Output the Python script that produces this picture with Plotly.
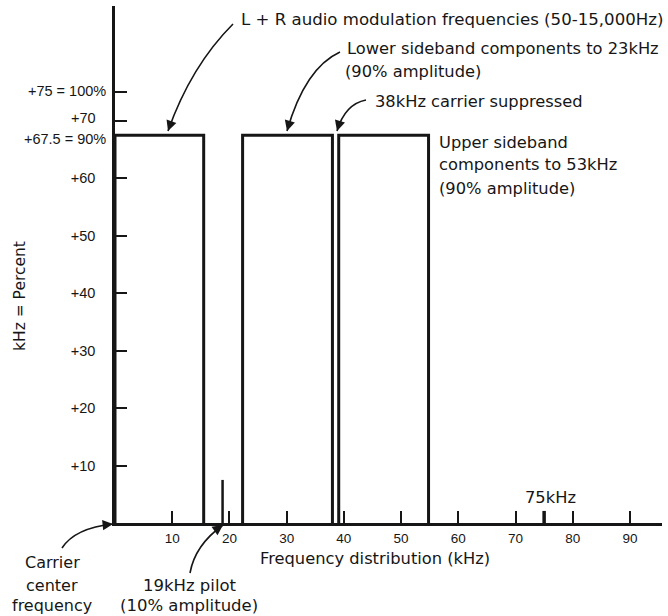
import plotly.graph_objects as go

# ---- data ----
band_names = ["L+R audio", "Lower sideband", "Upper sideband"]
band_start = [0.0, 22.3, 39.1]
band_end = [15.5, 38.0, 54.8]
band_level = [67.5, 67.5, 67.5]
pilot_freq = [18.8]
pilot_level = [7.5]
max_dev_freq = [75]
xtick_vals = [10, 20, 30, 40, 50, 60, 70, 80, 90]
xtick_text = ["10", "20", "30", "40", "50", "60", "70", "80", "90"]
ytick_vals = [10, 20, 30, 40, 50, 60, 67.5, 70, 75]
ytick_text = ["+10", "+20", "+30", "+40", "+50", "+60", "+67.5 = 90%", "+70", "+75 = 100%"]

W, H = 668, 616
ML, MR, MT, MB = 115, 6, 6, 93
PW, PH = W - ML - MR, H - MT - MB
FONT = "Liberation Sans"
AFONT = "DejaVu Sans"
INK = "#161616"


def X(px):
    return (px - ML) / PW


def Y(py):
    return (H - MB - py) / PH


fig = go.Figure()

for name, a, b, lv in zip(band_names, band_start, band_end, band_level):
    fig.add_trace(go.Scatter(x=[a, a, b, b], y=[0, lv, lv, 0], mode="lines",
                             line=dict(color=INK, width=3), name=name,
                             hoverinfo="skip", showlegend=False))

for f, lv in zip(pilot_freq, pilot_level):
    fig.add_trace(go.Scatter(x=[f, f], y=[0, lv], mode="lines",
                             line=dict(color=INK, width=2.5), hoverinfo="skip",
                             showlegend=False))

for f in max_dev_freq:
    fig.add_trace(go.Scatter(x=[f, f], y=[0, 2.1], mode="lines",
                             line=dict(color=INK, width=3.5), hoverinfo="skip",
                             showlegend=False))

# the crowded upper labels (67.5, 70, 75) are placed as offset annotations
axis_ticktext = [t if v < 67 else "" for v, t in zip(ytick_vals, ytick_text)]
upper_label_pos = {67.5: (108, 139), 70: (98, 118), 75: (108, 91)}

fig.update_xaxes(range=[0, 95.6], tickvals=xtick_vals, ticktext=xtick_text,
                 ticks="inside", ticklen=12, tickwidth=1.5, tickcolor=INK,
                 showline=True, linewidth=2.5, linecolor=INK, showgrid=False,
                 zeroline=False, ticklabelstandoff=1,
                 tickfont=dict(family=FONT, size=13.5, color=INK))
fig.update_yaxes(range=[0, 90], tickvals=ytick_vals, ticktext=axis_ticktext,
                 ticks="inside", ticklen=12, tickwidth=1.5, tickcolor=INK,
                 showline=True, linewidth=2.5, linecolor=INK, showgrid=False,
                 zeroline=False, ticklabelstandoff=14,
                 tickfont=dict(family=FONT, size=14.5, color=INK))

# curved leader lines (pixel coordinates converted to paper)
curves = [
    ((233, 24), (191, 66), (168, 131)),
    ((340, 52), (305, 68), (287, 131)),
    ((366, 100), (345, 104), (337, 131)),
    ((62, 548), (75, 528), (113, 524)),
    ((190, 573), (195, 545), (223, 525)),
]
shapes = []
annotations = []
for (s, c, e) in curves:
    path = "M {},{} Q {},{} {},{}".format(X(s[0]), Y(s[1]), X(c[0]), Y(c[1]), X(e[0]), Y(e[1]))
    shapes.append(dict(type="path", path=path, xref="paper", yref="paper",
                       line=dict(color=INK, width=1.6)))
    dx, dy = c[0] - e[0], c[1] - e[1]
    n = (dx * dx + dy * dy) ** 0.5
    annotations.append(dict(x=X(e[0]), y=Y(e[1]), xref="paper", yref="paper",
                            text="", showarrow=True, arrowhead=2, arrowsize=1.3,
                            arrowwidth=1.6, arrowcolor=INK,
                            ax=dx / n * 10, ay=dy / n * 10))

for v, t in zip(ytick_vals, ytick_text):
    if v in upper_label_pos:
        px, py = upper_label_pos[v]
        annotations.append(dict(x=X(px), y=Y(py), xref="paper", yref="paper", text=t,
                                showarrow=False, xanchor="right", yanchor="middle",
                                font=dict(family=FONT, size=14.5, color=INK)))

texts = [
    ("L + R audio modulation frequencies (50-15,000Hz)", 239, 19, "left", 16.6),
    ("Lower sideband components to 23kHz", 345, 48, "left", 16.3),
    ("(90% amplitude)", 343, 72, "left", 16.3),
    ("38kHz carrier suppressed", 373, 101, "left", 16.3),
    ("Upper sideband", 437, 142, "left", 16.3),
    ("components to 53kHz", 437, 164, "left", 16.3),
    ("(90% amplitude)", 437, 188, "left", 16.3),
    ("75kHz", 550, 497, "center", 16.3),
    ("Frequency distribution (kHz)", 375, 558, "center", 16.3),
    ("Carrier", 52, 562, "center", 16),
    ("center", 52, 585, "center", 16),
    ("frequency", 52, 605, "center", 16),
    ("19kHz pilot", 190, 585, "center", 16.5),
    ("(10% amplitude)", 189, 605, "center", 16.5),
]
for t, px, py, anc, sz in texts:
    annotations.append(dict(x=X(px), y=Y(py), xref="paper", yref="paper", text=t,
                            showarrow=False, xanchor=anc, yanchor="middle",
                            font=dict(family=AFONT, size=sz, color=INK)))

annotations.append(dict(x=X(20), y=Y(296), xref="paper", yref="paper",
                        text="kHz = Percent", textangle=-90, showarrow=False,
                        xanchor="center", yanchor="middle",
                        font=dict(family=AFONT, size=15.5, color=INK)))

fig.update_layout(width=W, height=H, margin=dict(l=ML, r=MR, t=MT, b=MB),
                  paper_bgcolor="white", plot_bgcolor="white",
                  shapes=shapes, annotations=annotations, showlegend=False,
                  font=dict(family=FONT, color=INK))

fig.write_html("out.html", config={"displayModeBar": False},
               post_script="document.body.style.margin='0px';")
